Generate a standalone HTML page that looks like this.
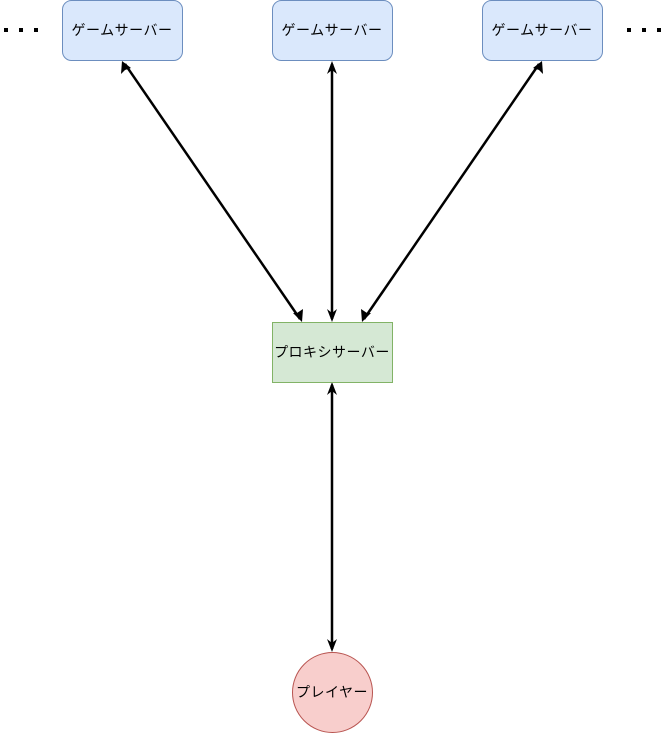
<!DOCTYPE html>
<html><head><meta charset="utf-8"><style>
body{margin:0;background:#fff;}
svg{display:block;}
text{font-family:"Liberation Sans","Noto Sans CJK JP",sans-serif;font-size:14px;letter-spacing:0.5px;fill:#000;}
</style></head><body>
<svg width="665" height="733" viewBox="0 0 665 733">
<g stroke="#000" stroke-width="2.5">
<line x1="125" y1="64" x2="300" y2="319"/>
<line x1="332" y1="64" x2="332" y2="319"/>
<line x1="539" y1="64" x2="364" y2="319"/>
<line x1="332" y1="385" x2="332" y2="649"/>
</g>
<g fill="#000">
<polygon points="122,61 121,74 125,70 131,68"/>
<polygon points="302,322 293,313 297,313 303,309"/>
<polygon points="332,61 327,74 332,70 337,74"/>
<polygon points="332,322 327,309 332,313 337,309"/>
<polygon points="542,61 533,68 539,70 543,74"/>
<polygon points="362,322 361,309 367,313 371,313"/>
<polygon points="332,382 327,395 332,391 337,395"/>
<polygon points="332,652 327,639 332,643 337,639"/>
<rect x="4" y="28" width="4" height="4"/><rect x="19" y="28" width="4" height="4"/><rect x="34" y="28" width="4" height="4"/>
<rect x="627" y="28" width="4" height="4"/><rect x="642" y="28" width="4" height="4"/><rect x="657" y="28" width="4" height="4"/>
</g>
<g fill="#dae8fc" stroke="#6c8ebf">
<rect x="62.5" y="0.5" width="120" height="60" rx="9"/>
<rect x="272.5" y="0.5" width="120" height="60" rx="9"/>
<rect x="482.5" y="0.5" width="120" height="60" rx="9"/>
</g>
<rect x="272.5" y="322.5" width="120" height="60" fill="#d5e8d4" stroke="#82b366"/>
<circle cx="332.5" cy="692.5" r="40" fill="#f8cecc" stroke="#b85450"/>
<g text-anchor="middle">
<text x="122" y="35">ゲームサーバー</text>
<text x="332" y="35">ゲームサーバー</text>
<text x="542" y="35">ゲームサーバー</text>
<text x="332" y="357">プロキシサーバー</text>
<text x="332" y="697">プレイヤー</text>
</g>
</svg>
</body></html>
